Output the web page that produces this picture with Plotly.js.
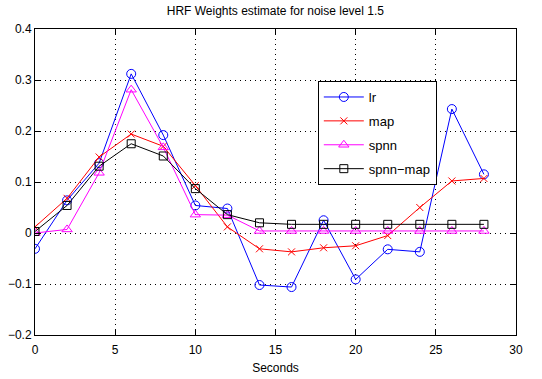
<!DOCTYPE html>
<html>
<head>
<meta charset="utf-8">
<script src="https://cdn.plot.ly/plotly-3.0.1.min.js"></script>
<style>html,body{margin:0;padding:0;background:#fff;}#chart{width:542px;height:379px;}</style>
</head>
<body>
<div id="chart"></div>
<script>
var seconds = [0, 2, 4, 6, 8, 10, 12, 14, 16, 18, 20, 22, 24, 26, 28];
var lr = [-0.031, 0.064, 0.137, 0.312, 0.192, 0.054, 0.048, -0.102, -0.106, 0.025, -0.091, -0.032, -0.037, 0.243, 0.115];
var mapv = [0.012, 0.068, 0.149, 0.194, 0.170, 0.093, 0.012, -0.031, -0.037, -0.029, -0.025, -0.005, 0.050, 0.102, 0.107];
var spnn = [0.0, 0.007, 0.118, 0.281, 0.168, 0.036, 0.035, 0.004, 0.004, 0.004, 0.004, 0.004, 0.004, 0.004, 0.004];
var spnnMap = [0.003, 0.054, 0.131, 0.175, 0.151, 0.087, 0.036, 0.020, 0.017, 0.017, 0.017, 0.017, 0.017, 0.017, 0.017];
var seriesNames = ["lr", "map", "spnn", "spnn\u2212map"];
var xTicks = [0, 5, 10, 15, 20, 25, 30];
var yTicks = [-0.2, -0.1, 0, 0.1, 0.2, 0.3, 0.4];

function tr(y, name, color, symbol, size) {
  return {
    x: seconds, y: y, name: name, legendgroup: name, type: "scatter", mode: "lines+markers",
    line: {color: color, width: 1},
    marker: {symbol: symbol, size: size, color: color, line: {color: color, width: 1}}
  };
}
var data = [
  tr(lr, seriesNames[0], "#0000ff", "circle-open", 9),
  tr(mapv, seriesNames[1], "#ff0000", "x-thin-open", 7),
  tr(spnn, seriesNames[2], "#ff00ff", "triangle-up-open", 9),
  tr(spnnMap, seriesNames[3], "#000000", "square-open", 8)
];
var axisCommon = {
  showline: true, linecolor: "#000", linewidth: 1, mirror: "ticks",
  ticks: "inside", ticklen: 5, tickcolor: "#000",
  showgrid: true, gridcolor: "#000", gridwidth: 1, griddash: "1px,4px",
  zeroline: false, tickfont: {family: "Liberation Sans, Arial, sans-serif", size: 12, color: "#000"}
};
var layout = {
  width: 542, height: 379,
  margin: {l: 35, r: 26, t: 29, b: 44},
  paper_bgcolor: "#fff", plot_bgcolor: "#fff",
  font: {family: "Liberation Sans, Arial, sans-serif", size: 12, color: "#000"},
  title: {text: "HRF Weights estimate for noise level 1.5", font: {size: 12}, x: 0.508, xanchor: "center", y: 0.971, yanchor: "middle", yref: "container"},
  xaxis: Object.assign({}, axisCommon, {range: [0, 30], tickvals: xTicks, ticktext: xTicks.map(String), ticklabelstandoff: 4,
    title: {text: "Seconds", font: {size: 12}, standoff: 7}}),
  yaxis: Object.assign({}, axisCommon, {range: [-0.2, 0.4], tickvals: yTicks, ticktext: ["\u22120.2", "\u22120.1", "0", "0.1", "0.2", "0.3", "0.4"]}),
  showlegend: true,
  legend: {x: 0.588, y: 0.83, xanchor: "left", yanchor: "top", bgcolor: "#fff", bordercolor: "#000", borderwidth: 1,
    font: {size: 13}, itemwidth: 40, tracegroupgap: 4}
};
Plotly.newPlot("chart", data, layout, {displayModeBar: false, staticPlot: true});
</script>
</body>
</html>
